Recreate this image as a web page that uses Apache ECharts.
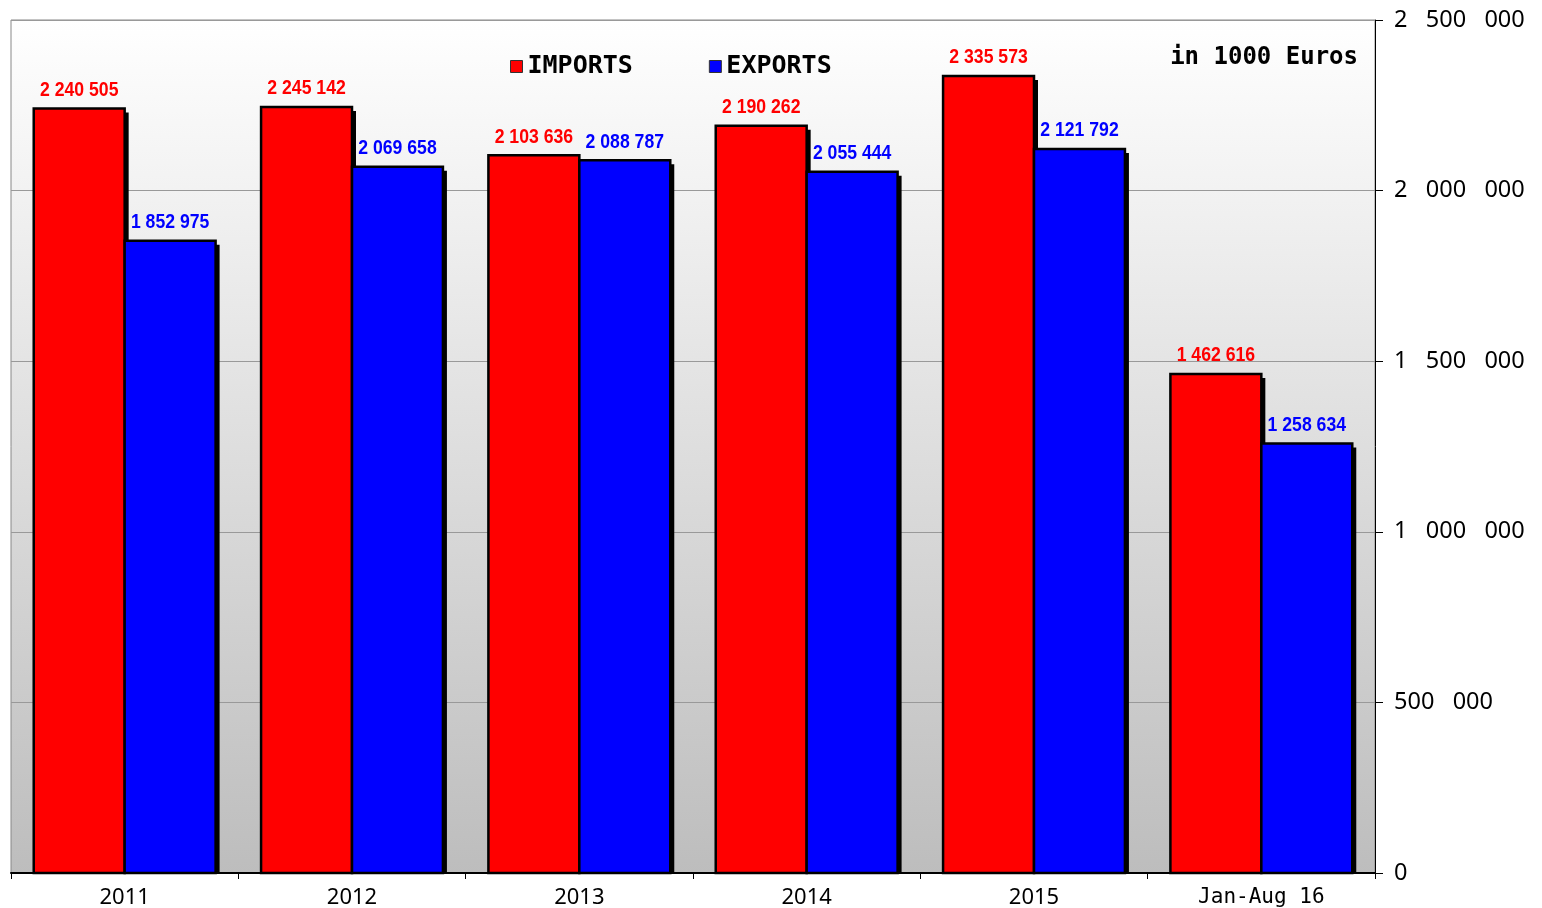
<!DOCTYPE html>
<html><head><meta charset="utf-8">
<script src="https://cdn.jsdelivr.net/npm/echarts@6/dist/echarts.min.js"></script>
<style>html,body{margin:0;padding:0;background:#fff}#c{width:1542px;height:908px}</style>
</head><body><div id="c"></div>
<script>
const categories = ['2011','2012','2013','2014','2015','Jan-Aug 16'];
const imports = [2240505, 2245142, 2103636, 2190262, 2335573, 1462616];
const exports_ = [1852975, 2069658, 2088787, 2055444, 2121792, 1258634];
const seriesNames = ['IMPORTS','EXPORTS'];
const seriesColors = ['#ff0000','#0000ff'];
const unitNote = 'in 1000 Euros';

function sp(v){ return String(v).replace(/\B(?=(\d{3})+(?!\d))/g,' '); }
function sp3(v){ return String(v).replace(/\B(?=(\d{3})+(?!\d))/g,'   '); }

function makeRender(si, color) {
  return function (params, api) {
    const idx = api.value(0), val = api.value(1);
    const base = api.coord([idx, 0]);
    const top = api.coord([idx, val]);
    const band = api.size([1, 0])[0];
    const w = band * 0.4;
    const x0 = base[0] - w + si * w;
    const h = base[1] - top[1];
    return { type: 'group', children: [
      { type: 'rect', shape: { x: x0 + 4, y: top[1] + 4, width: w, height: h - 4 }, style: { fill: '#000' } },
      { type: 'rect', shape: { x: x0, y: top[1], width: w, height: h }, style: { fill: color, stroke: '#000', lineWidth: 2.5 } },
      { type: 'text', x: x0 + w / 2, y: top[1] - 8, scaleX: 0.84,
        style: { text: sp(val), fill: color, font: 'bold 21px "Liberation Sans", Arial, sans-serif', textAlign: 'center', textVerticalAlign: 'bottom' } }
    ]};
  };
}

const chart = echarts.init(document.getElementById('c'));
chart.setOption({
  animation: false,
  grid: { left: 11, right: 167, top: 20, bottom: 35, outerBoundsMode: 'none', containLabel: false,
    show: true, borderColor: '#888', borderWidth: 1,
    backgroundColor: { type: 'linear', x: 0, y: 0, x2: 0, y2: 1,
      colorStops: [{offset: 0, color: '#ffffff'}, {offset: 1, color: '#bdbdbd'}] } },
  legend: {
    left: 505, top: 49, itemWidth: 12, itemHeight: 12, itemGap: 76, icon: 'rect',
    textStyle: { fontFamily: '"DejaVu Sans Mono",monospace', fontWeight: 'bold', fontSize: 25, color: '#000' },
    data: seriesNames.map(n => ({ name: n, itemStyle: { borderColor: '#333', borderWidth: 1 } }))
  },
  graphic: [{ type: 'text', right: 184, top: 46,
    style: { text: unitNote, fontFamily: '"DejaVu Sans Mono",monospace', fontWeight: 'bold', fontSize: 24, fill: '#000' } }],
  xAxis: {
    type: 'category', data: categories,
    axisLine: { lineStyle: { color: '#000', width: 2 } },
    axisTick: { show: true, length: 6, lineStyle: { color: '#000' } },
    axisLabel: { color: '#000', margin: 14,
      formatter: v => /^\d+$/.test(v) ? '{s|' + v + '}' : '{m|' + v + '}',
      rich: {
        s: { fontFamily: '"Noto Sans",sans-serif', fontSize: 22, color: '#000' },
        m: { fontFamily: '"DejaVu Sans Mono",monospace', fontSize: 21, color: '#000' }
      } }
  },
  yAxis: {
    type: 'value', position: 'right', min: 0, max: 2500000, interval: 500000,
    axisLine: { show: true, lineStyle: { color: '#000', width: 1 } },
    axisTick: { show: true, length: 8, lineStyle: { color: '#000' } },
    splitLine: { lineStyle: { color: '#999', width: 1 } },
    axisLabel: { fontFamily: '"Noto Sans",sans-serif', fontSize: 23.5, color: '#000', margin: 19, formatter: v => sp3(v) }
  },
  series: [
    { name: seriesNames[0], type: 'custom', data: imports.map((v, i) => [i, v]), encode: { x: 0, y: 1 },
      itemStyle: { color: seriesColors[0] }, renderItem: makeRender(0, seriesColors[0]) },
    { name: seriesNames[1], type: 'custom', data: exports_.map((v, i) => [i, v]), encode: { x: 0, y: 1 },
      itemStyle: { color: seriesColors[1] }, renderItem: makeRender(1, seriesColors[1]) }
  ]
});
</script></body></html>
